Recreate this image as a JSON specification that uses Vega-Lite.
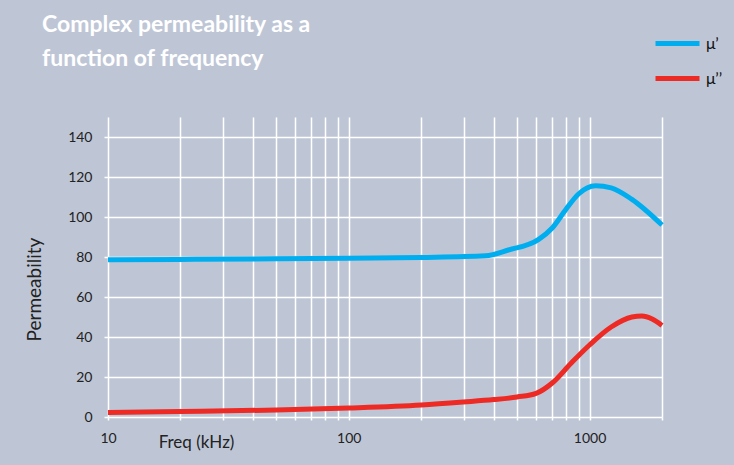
{
  "$schema": "https://vega.github.io/schema/vega-lite/v6.json",
  "width": 554,
  "height": 300,
  "autosize": {"type": "none"},
  "padding": {"left": 108, "top": 117, "right": 72, "bottom": 48},
  "background": "#bec6d6",
  "config": {
    "view": {"stroke": null},
    "font": "Lato"
  },
  "title": {
    "text": ["Complex permeability as a", "function of frequency"],
    "anchor": "start",
    "frame": "group",
    "color": "#ffffff",
    "font": "Lato",
    "fontSize": 23,
    "fontWeight": "bold",
    "lineHeight": 34,
    "dx": -66,
    "dy": 110,
    "offset": 48
  },
  "data": {
    "values": [
      {"f": 10, "mu": 78.6, "series": "μ’"},
      {"f": 20, "mu": 78.8, "series": "μ’"},
      {"f": 50, "mu": 79.1, "series": "μ’"},
      {"f": 100, "mu": 79.4, "series": "μ’"},
      {"f": 200, "mu": 79.8, "series": "μ’"},
      {"f": 370, "mu": 80.6, "series": "μ’"},
      {"f": 460, "mu": 83.5, "series": "μ’"},
      {"f": 615, "mu": 88.8, "series": "μ’"},
      {"f": 700, "mu": 94.5, "series": "μ’"},
      {"f": 800, "mu": 104, "series": "μ’"},
      {"f": 900, "mu": 111.5, "series": "μ’"},
      {"f": 1060, "mu": 115.6, "series": "μ’"},
      {"f": 1230, "mu": 114.6, "series": "μ’"},
      {"f": 1500, "mu": 108.8, "series": "μ’"},
      {"f": 2000, "mu": 96, "series": "μ’"},
      {"f": 10, "mu": 2.2, "series": "μ’’"},
      {"f": 20, "mu": 2.7, "series": "μ’’"},
      {"f": 50, "mu": 3.5, "series": "μ’’"},
      {"f": 100, "mu": 4.5, "series": "μ’’"},
      {"f": 200, "mu": 6, "series": "μ’’"},
      {"f": 300, "mu": 7.5, "series": "μ’’"},
      {"f": 400, "mu": 8.7, "series": "μ’’"},
      {"f": 500, "mu": 10, "series": "μ’’"},
      {"f": 600, "mu": 11.8, "series": "μ’’"},
      {"f": 700, "mu": 17, "series": "μ’’"},
      {"f": 840, "mu": 27, "series": "μ’’"},
      {"f": 1000, "mu": 36, "series": "μ’’"},
      {"f": 1230, "mu": 45, "series": "μ’’"},
      {"f": 1500, "mu": 50, "series": "μ’’"},
      {"f": 1650, "mu": 50.5, "series": "μ’’"},
      {"f": 1820, "mu": 49, "series": "μ’’"},
      {"f": 2000, "mu": 45.8, "series": "μ’’"}
    ]
  },
  "mark": {"type": "line", "interpolate": "monotone", "strokeWidth": 5, "strokeCap": "butt"},
  "encoding": {
    "x": {
      "field": "f",
      "type": "quantitative",
      "scale": {"type": "log", "domain": [10, 2000], "nice": false},
      "axis": {
        "values": [10, 20, 30, 40, 50, 60, 70, 80, 90, 100, 200, 300, 400, 500, 600, 700, 800, 900, 1000, 2000],
        "labelExpr": "datum.value == 10 || datum.value == 100 || datum.value == 1000 ? toString(datum.value) : ''",
        "labelFlush": false,
        "labelOverlap": false,
        "grid": true,
        "gridColor": "#ffffff",
        "gridOpacity": 1,
        "gridWidth": 1.5,
        "domain": false,
        "tickColor": "#ffffff",
        "tickSize": 3,
        "tickWidth": 1.5,
        "labelPadding": 11,
        "labelFont": "Lato",
        "labelFontSize": 14,
        "labelColor": "#222222",
        "title": "Freq (kHz)",
        "titleFont": "Lato",
        "titleFontSize": 17,
        "titleFontWeight": "normal",
        "titleColor": "#222222",
        "titleX": 88,
        "titleY": 30,
        "titleAlign": "center",
        "titleBaseline": "alphabetic"
      }
    },
    "y": {
      "field": "mu",
      "type": "quantitative",
      "scale": {"domain": [0, 150], "nice": false},
      "axis": {
        "values": [0, 20, 40, 60, 80, 100, 120, 140],
        "grid": true,
        "gridColor": "#ffffff",
        "gridOpacity": 1,
        "gridWidth": 1.5,
        "domain": false,
        "tickColor": "#ffffff",
        "tickSize": 4,
        "tickWidth": 1.5,
        "labelPadding": 12,
        "labelFont": "Lato",
        "labelFontSize": 14,
        "labelColor": "#222222",
        "title": "Permeability",
        "titleFont": "Lato",
        "titleFontSize": 19,
        "titleFontWeight": "normal",
        "titleColor": "#222222",
        "titleAngle": -90,
        "titleX": -68,
        "titleY": 172,
        "titleAlign": "center",
        "titleBaseline": "alphabetic"
      }
    },
    "color": {
      "field": "series",
      "type": "nominal",
      "scale": {"domain": ["μ’", "μ’’"], "range": ["#00aeef", "#ed2a24"]},
      "legend": {
        "title": null,
        "orient": "none",
        "legendX": 535,
        "legendY": -108,
        "padding": 10,
        "symbolType": "stroke",
        "symbolSize": 1936,
        "symbolStrokeWidth": 5,
        "labelFont": "Lato",
        "labelFontSize": 16,
        "labelColor": "#111111",
        "rowPadding": -24
      }
    }
  }
}
